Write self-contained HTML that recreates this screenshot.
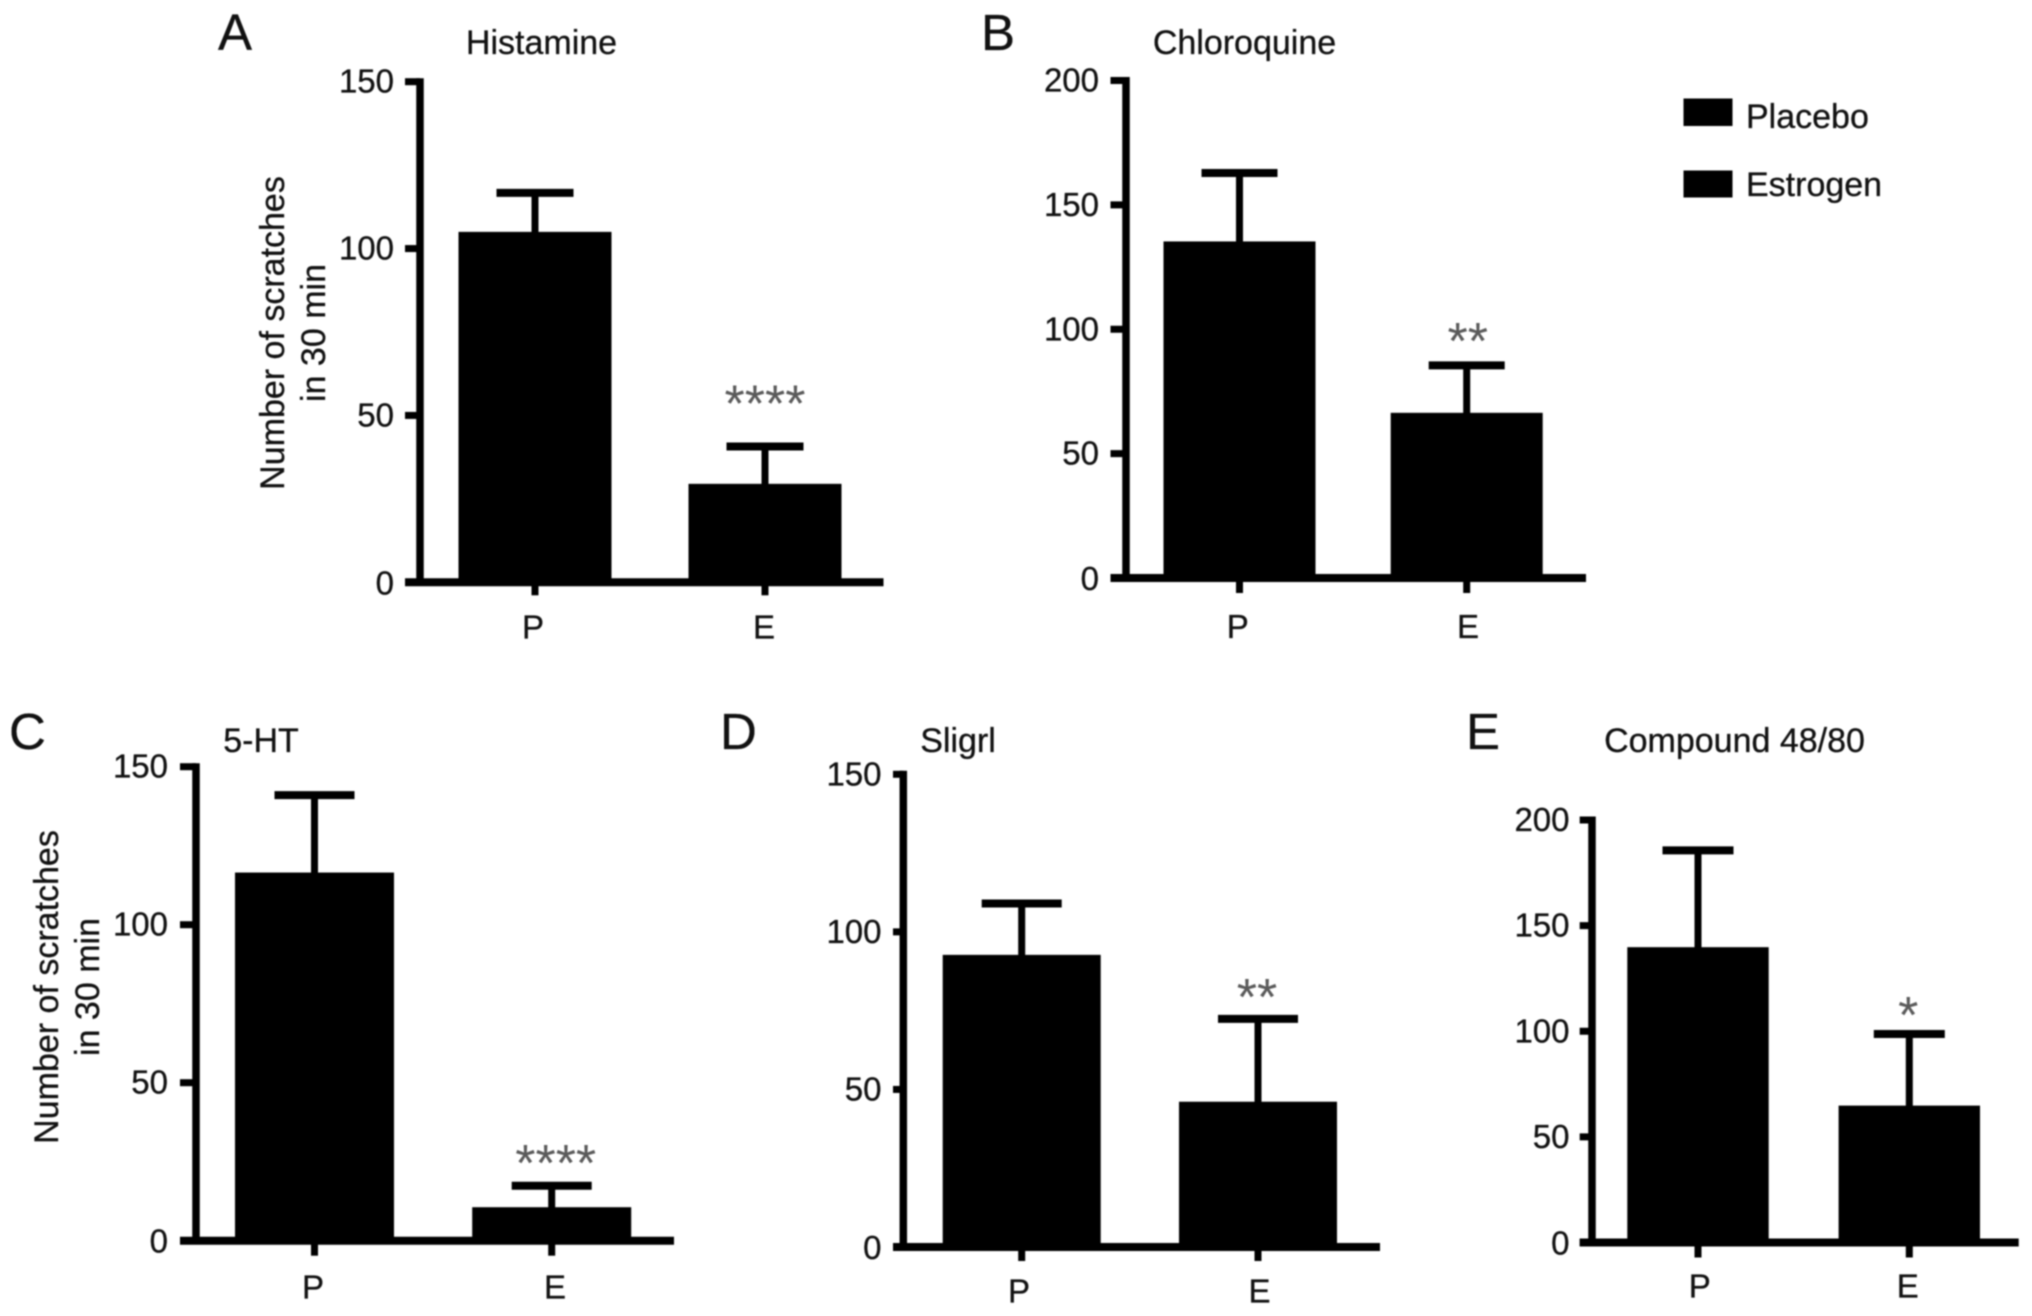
<!DOCTYPE html>
<html lang="en">
<head>
<meta charset="utf-8">
<title>Number of scratches in 30 min: Placebo vs Estrogen</title>
<style>
  html, body { margin: 0; padding: 0; background: #fff; }
  body { width: 2032px; height: 1316px; overflow: hidden; }
  svg { display: block; filter: blur(0.7px); }
  text { font-family: "Liberation Sans", Arial, sans-serif; fill: #111; stroke: #111; stroke-width: 0.3px; font-size: 34px; }
  .letter { font-size: 51px; fill: #111; }
  .tick { font-size: 33px; }
  .sig { font-size: 52px; fill: #5a5a5a; stroke: none; }
</style>
</head>
<body>
<svg id="figure" width="2032" height="1316" viewBox="0 0 2032 1316" xmlns="http://www.w3.org/2000/svg">
  <rect width="2032" height="1316" fill="#fff"/>

  <text class="letter" x="218" y="50">A</text>
  <text class="letter" x="981" y="50">B</text>
  <text class="letter" x="9" y="749">C</text>
  <text class="letter" x="720" y="749">D</text>
  <text class="letter" x="1466" y="749">E</text>

  <text x="541.5" y="54" text-anchor="middle">Histamine</text>
  <text x="1244.5" y="54" text-anchor="middle">Chloroquine</text>
  <text x="261" y="752" text-anchor="middle">5-HT</text>
  <text x="958" y="752" text-anchor="middle">Sligrl</text>
  <text x="1734.5" y="752" text-anchor="middle">Compound 48/80</text>

  <text text-anchor="middle" transform="translate(284 333) rotate(-90)">Number of scratches</text>
  <text text-anchor="middle" transform="translate(325 333) rotate(-90)">in 30 min</text>
  <text text-anchor="middle" transform="translate(58 987) rotate(-90)">Number of scratches</text>
  <text text-anchor="middle" transform="translate(99 987) rotate(-90)">in 30 min</text>

  <g>
    <rect x="1683.5" y="98.5" width="49" height="27.5" fill="#000"/>
    <text x="1746" y="128">Placebo</text>
    <rect x="1683.5" y="170.5" width="49" height="27" fill="#000"/>
    <text x="1746" y="196">Estrogen</text>
  </g>
</svg>

<script>
// Chart data (one entry per panel: A, B, C, D, E)
const categories = ['P', 'E'];
const placeboMeans = [105, 135.3, 116.5, 92.7, 139.8];
const estrogenMeans = [29.5, 66.4, 10.6, 46.1, 64.8];
const placeboErrorTops = [116.7, 162.8, 141, 109, 185.6];
const estrogenErrorTops = [40.7, 85.5, 17.4, 72.4, 98.7];
const axisMaxima = [150, 200, 150, 150, 200];
const tickLabelsA = [0, 50, 100, 150];
const tickLabelsB = [0, 50, 100, 150, 200];
const tickLabelsC = [0, 50, 100, 150];
const tickLabelsD = [0, 50, 100, 150];
const tickLabelsE = [0, 50, 100, 150, 200];
const significanceMarks = ['****', '**', '****', '**', '*'];

// Panel layout (pixel geometry, separate from data)
const layouts = [
  { id: 'a', axisX: 420, y0: 582.3, yTop: 81.7, left: 405, right: 883.5, centerP: 535, centerE: 765, barW: 153, capW: 77, labelRight: 394, catBase: 638.5, catP: 533, catE: 764, sigGap: -25, sigShift: 0, tickLen: 13 },
  { id: 'b', axisX: 1126, y0: 578, yTop: 80.5, left: 1110.5, right: 1586, centerP: 1239.5, centerE: 1466.7, barW: 152, capW: 76, labelRight: 1099, catBase: 638, catP: 1237.7, catE: 1468, sigGap: -6.5, sigShift: 1, tickLen: 15 },
  { id: 'c', axisX: 196, y0: 1240.7, yTop: 766.7, left: 180, right: 674, centerP: 314.5, centerE: 551.7, barW: 159, capW: 80, labelRight: 168, catBase: 1298.5, catP: 313, catE: 555, sigGap: -4.5, sigShift: 4, tickLen: 15 },
  { id: 'd', axisX: 903.3, y0: 1247, yTop: 774.3, left: 893, right: 1380, centerP: 1021.7, centerE: 1258, barW: 158, capW: 80, labelRight: 881.5, catBase: 1302.5, catP: 1019, catE: 1259.5, sigGap: -4, sigShift: -1, tickLen: 14 },
  { id: 'e', axisX: 1592, y0: 1242.5, yTop: 820, left: 1579.7, right: 2018.7, centerP: 1698, centerE: 1909.3, barW: 141.4, capW: 71, labelRight: 1569.5, catBase: 1297.7, catP: 1699.7, catE: 1907.7, sigGap: -1, sigShift: -1, tickLen: 15 }
];
const allTickLabels = [tickLabelsA, tickLabelsB, tickLabelsC, tickLabelsD, tickLabelsE];

const SVG_NS = 'http://www.w3.org/2000/svg';
const figure = document.getElementById('figure');

function shape(tag, parent, props) {
  const node = document.createElementNS(SVG_NS, tag);
  for (const key in props) node.setAttribute(key, props[key]);
  parent.appendChild(node);
  return node;
}
function line(parent, x1, y1, x2, y2, width) {
  return shape('line', parent, { x1: x1, y1: y1, x2: x2, y2: y2, stroke: '#000', 'stroke-width': width });
}

layouts.forEach(function (L, i) {
  const yScale = function (v) { return L.y0 - (v / axisMaxima[i]) * (L.y0 - L.yTop); };

  const panel = shape('g', figure, {});
  
  

  // Error bars sit behind the bars, drawn first
  const groups = [
    { mean: placeboMeans[i], err: placeboErrorTops[i], center: L.centerP, catX: L.catP, key: 'placebo', cat: categories[0] },
    { mean: estrogenMeans[i], err: estrogenErrorTops[i], center: L.centerE, catX: L.catE, key: 'estrogen', cat: categories[1] }
  ];
  groups.forEach(function (g) {
    const stem = line(panel, g.center, yScale(g.err), g.center, yScale(g.mean) + 2, 7);
    
    

    const cap = line(panel, g.center - L.capW / 2, yScale(g.err), g.center + L.capW / 2, yScale(g.err), 8);
    
    

    const bar = shape('rect', panel, { x: g.center - L.barW / 2, y: yScale(g.mean), width: L.barW, height: L.y0 - yScale(g.mean), fill: '#000' });
    
    

    const xTick = line(panel, g.center, L.y0, g.center, L.y0 + L.tickLen, 7);
    
    

    const catLabel = shape('text', panel, { x: g.catX, y: L.catBase, 'text-anchor': 'middle', class: 'tick' });
    catLabel.textContent = g.cat;
    
    
  });

  // Axes
  const yAxis = line(panel, L.axisX, L.yTop - 3.5, L.axisX, L.y0, 7.5);
  
  

  const xAxis = line(panel, L.left, L.y0, L.right, L.y0, 8);
  
  

  // Y ticks and labels
  allTickLabels[i].forEach(function (value) {
    const y = yScale(value);
    const tick = line(panel, L.left, y, L.axisX, y, 7);
    
    

    const label = shape('text', panel, { x: L.labelRight, y: y + (value === 0 ? 12 : 11), 'text-anchor': 'end', class: 'tick' });
    label.textContent = value;
    
    
  });

  // Significance marks above the estrogen bar
  const sig = shape('text', panel, { x: L.centerE + L.sigShift, y: yScale(estrogenErrorTops[i]) + L.sigGap, 'text-anchor': 'middle', class: 'sig' });
  sig.textContent = significanceMarks[i];
  
  
});
</script>
</body>
</html>
